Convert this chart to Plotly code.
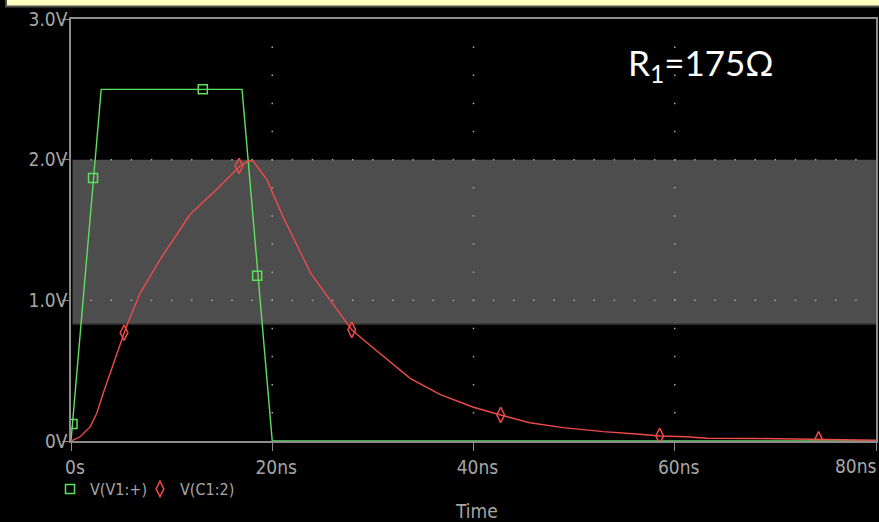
import numpy as np
import plotly.graph_objects as go

# ---- data ----
v1_t = [0, 3.0, 17.0, 20.0, 80]
v1_v = [0, 2.5, 2.5, 0, 0]
v1_mark_t = [0.15, 2.19, 13.1, 18.5]
v1_mark_v = [0.12, 1.87, 2.5, 1.175]

c1_t = [0, 0.9, 1.9, 2.55, 3.2, 3.9, 4.7, 5.27, 5.53, 6.86, 8.85, 11.83, 14.48, 16.8,
        17.6, 18.1, 19.45, 21.1, 23.8, 27.4, 27.9, 29.05, 31.05, 33.7, 36.7, 40.0,
        42.7, 45.6, 48.9, 52.9, 56.2, 58.5, 61.2, 63.2, 68.0, 74.3, 80.0]
c1_v = [0, 0.03, 0.10, 0.195, 0.34, 0.48, 0.65, 0.77, 0.82, 1.05, 1.29, 1.61, 1.79, 1.955,
        1.99, 1.99, 1.86, 1.59, 1.195, 0.84, 0.79, 0.72, 0.60, 0.445, 0.33, 0.24,
        0.185, 0.13, 0.095, 0.067, 0.05, 0.036, 0.03, 0.02, 0.018, 0.013, 0.005]
c1_mark_t = [5.27, 16.7, 27.9, 42.7, 58.5, 74.3]
c1_mark_v = [0.77, 1.955, 0.79, 0.185, 0.036, 0.012]

x_ticks = [0, 20, 40, 60, 80]
x_labels = ["0s", "20ns", "40ns", "60ns", "80ns"]
y_ticks = [0, 1, 2, 3]
y_labels = ["0V", "1.0V", "2.0V", "3.0V"]
band = [0.83, 2.0]

GREEN = "#5ee05e"
RED = "#f04a4a"
GRAY = "#a6a6a6"
FONT = "DejaVu Sans Condensed, Liberation Sans Narrow, DejaVu Sans, sans-serif"

fig = go.Figure()

# grid dots (PSpice style)
gx, gy = [], []
for xv in [20, 40, 60]:
    for yv in np.arange(0.2, 3.0, 0.2):
        gx.append(xv); gy.append(yv)
for yv in [1.0, 2.0]:
    for xv in np.arange(2, 80, 2):
        gx.append(xv); gy.append(yv)
fig.add_trace(go.Scatter(x=gx, y=gy, mode="markers", showlegend=False, hoverinfo="skip",
                         marker=dict(symbol="square", size=1.5, color="#a8a8a8", line=dict(width=0))))

fig.add_trace(go.Scatter(x=v1_t, y=v1_v, mode="lines", showlegend=False, hoverinfo="skip",
                         line=dict(color=GREEN, width=1.4)))
fig.add_trace(go.Scatter(x=c1_t, y=c1_v, mode="lines", showlegend=False, hoverinfo="skip",
                         line=dict(color=RED, width=1.4)))
fig.add_trace(go.Scatter(x=v1_mark_t, y=v1_mark_v, mode="markers", name="V(V1:+)", legend="legend",
                         marker=dict(symbol="square-open", size=9, color=GREEN, line=dict(width=1.5))))
fig.add_trace(go.Scatter(x=c1_mark_t, y=c1_mark_v, mode="markers", name="V(C1:2)", legend="legend2",
                         marker=dict(symbol="diamond-tall-open", size=11, color=RED, line=dict(width=1.5))))

L, R, T, B = 71, 3, 19, 81
W, H = 879, 522
pw, ph = W - L - R, H - T - B

def px_x(p):
    return (p - L) / pw

def px_y(p):
    return (H - B - p) / ph

shapes = [
    # gray band
    dict(type="rect", xref="x", yref="y", x0=0.15, x1=80, y0=band[0], y1=band[1],
         fillcolor="#4d4d4d", line=dict(width=0), layer="below"),
    dict(type="line", xref="x", yref="y", x0=0.15, x1=80, y0=band[0], y1=band[0],
         line=dict(color="#2a2a2a", width=1.5), layer="below"),
    # yellow bar at top
    dict(type="rect", xref="paper", yref="paper", x0=px_x(6), x1=px_x(885),
         y0=px_y(6.5), y1=px_y(-6), fillcolor="#ffffc0", line=dict(color="#505050", width=2),
         layer="above"),
]

leg_common = dict(orientation="h", xanchor="left", yanchor="middle", y=px_y(489),
                  bgcolor="rgba(0,0,0,0)", font=dict(family=FONT, size=16, color=GRAY),
                  itemwidth=30, itemclick=False, itemdoubleclick=False)

# last tick label is pulled inside the window (as in the reference), drawn separately
tick_text_shown = x_labels[:-1] + [""]

fig.update_layout(
    width=W, height=H,
    margin=dict(l=L, r=R, t=T, b=B, pad=0, autoexpand=False),
    paper_bgcolor="black", plot_bgcolor="black",
    font=dict(family=FONT, size=19, color=GRAY),
    shapes=shapes,
    showlegend=True,
    legend=dict(x=px_x(50), **leg_common),
    legend2=dict(x=px_x(140), **leg_common),
    annotations=[
        dict(text="R<sub>1</sub>=175Ω", x=55.2, y=2.675, xref="x", yref="y",
             xanchor="left", yanchor="middle", showarrow=False,
             font=dict(family="Lato, Carlito, Calibri, sans-serif", size=35, color="white")),
        dict(text="Time", x=40.3, y=px_y(511), xref="x", yref="paper",
             xanchor="center", yanchor="middle", showarrow=False,
             font=dict(family=FONT, size=19, color=GRAY)),
        dict(text=x_labels[-1], x=x_ticks[-1], y=px_y(466), xref="x", yref="paper",
             xanchor="right", yanchor="middle", xshift=3, showarrow=False,
             font=dict(family=FONT, size=19, color=GRAY)),
    ],
    xaxis=dict(range=[0, 80], tickvals=x_ticks, ticktext=tick_text_shown, showgrid=False,
               zeroline=False, showline=True, linecolor="#8c8c8c", linewidth=1.5, mirror=True,
               ticks="outside", ticklen=8, tickcolor="#8c8c8c", tickwidth=1.2,
               ticklabelshift=4, ticklabeloverflow="allow", automargin=False,
               layer="below traces", fixedrange=True),
    yaxis=dict(range=[0, 3], tickvals=y_ticks, ticktext=y_labels, showgrid=False,
               zeroline=False, showline=True, linecolor="#8c8c8c", linewidth=1.5, mirror=True,
               ticks="outside", ticklen=7, tickcolor="#8c8c8c", tickwidth=1.2,
               ticklabelstandoff=-9, ticklabeloverflow="allow", automargin=False,
               layer="below traces", fixedrange=True),
)

fig.write_html("out.html")
